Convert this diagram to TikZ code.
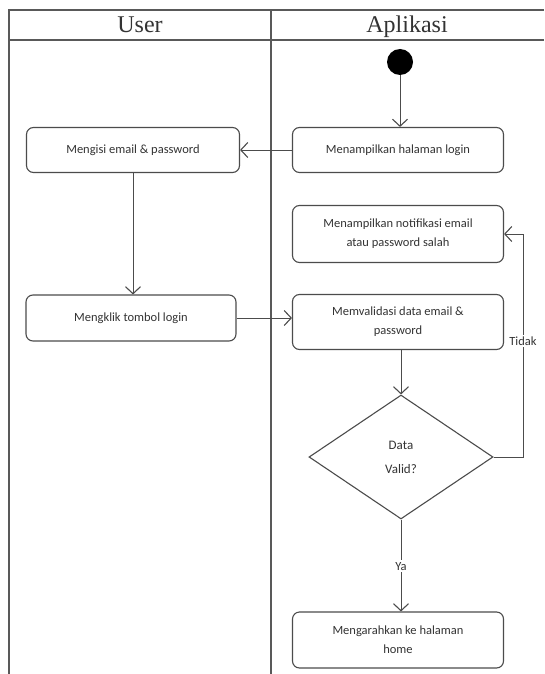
\documentclass[tikz,border=0pt]{standalone}
\usepackage{fontspec}
\setmainfont{Liberation Serif}
\newfontfamily\actfont{Carlito}
\usetikzlibrary{arrows.meta,shapes.geometric}

\begin{document}
\begin{tikzpicture}[x=1pt, y=-1pt,
    lane/.style={draw=black!65, line width=1.6pt},
    act/.style={draw=black!70, line width=1.1pt, rounded corners=7pt, align=center,
        minimum width=211pt, inner sep=2pt, font=\actfont\fontsize{12.5}{19}\selectfont, text=black!80},
    flow/.style={draw=black!70, line width=1pt, -{Straight Barb[length=7pt,width=15pt,line width=1.1pt]}},
    lbl/.style={fill=white, inner sep=2pt, font=\actfont\fontsize{12.5}{14}\selectfont, text=black!80}]
\useasboundingbox (0,0) rectangle (544,674);
\fill[white] (0,0) rectangle (544,674);

% swimlanes
\draw[lane] (9,674) -- (9,10) -- (544,10);
\draw[lane] (9,40) -- (544,40);
\draw[lane] (271,10) -- (271,674);
\node[anchor=base, font=\fontsize{24}{26}\selectfont, text=black!80] (hUser) at (140,33) {User};
\node[anchor=base, font=\fontsize{24}{26}\selectfont, text=black!80] (hApp) at (407,33) {Aplikasi};

% aktivitas
\node[circle, fill=black, minimum size=26pt, inner sep=0pt] (start) at (400,62) {};
\node[act, minimum height=45pt] (tampil) at (398,150) {Menampilkan halaman login};
\node[act, minimum height=45pt, minimum width=213pt] (isi) at (133,150) {Mengisi email \& password};
\node[act, minimum height=57pt] (notif) at (398,234) {Menampilkan notifikasi email\\atau password salah};
\node[act, minimum height=46pt, minimum width=210pt] (klik) at (131,318) {Mengklik tombol login};
\node[act, minimum height=55pt] (validasi) at (398,322) {Memvalidasi data email \&\\password};
\node[diamond, draw=black!70, line width=1.1pt, minimum width=184pt, minimum height=124pt,
    inner sep=0pt, align=center, font=\actfont\fontsize{13}{24}\selectfont, text=black!80] (valid) at (401,457) {Data\\Valid?};
\node[act, minimum height=56pt] (home) at (398,640) {Mengarahkan ke halaman\\home};
\coordinate (belok) at (523,457);

% alur
\draw[flow] (start) -- (start |- tampil.north);
\draw[flow] (tampil.west) -- (isi.east);
\draw[flow] (isi.south) -- (isi.south |- klik.north);
\draw[flow] (klik.east) -- (klik.east -| validasi.west);
\draw[flow] (valid.north |- validasi.south) -- (valid.north);
\draw[flow] (valid.east) -- (belok) -- node[lbl, pos=0.52] {Tidak} (belok |- notif.east) -- (notif.east);
\draw[flow] (valid.south) -- node[lbl, pos=0.51] {Ya} (valid.south |- home.north);
\end{tikzpicture}
\end{document}
